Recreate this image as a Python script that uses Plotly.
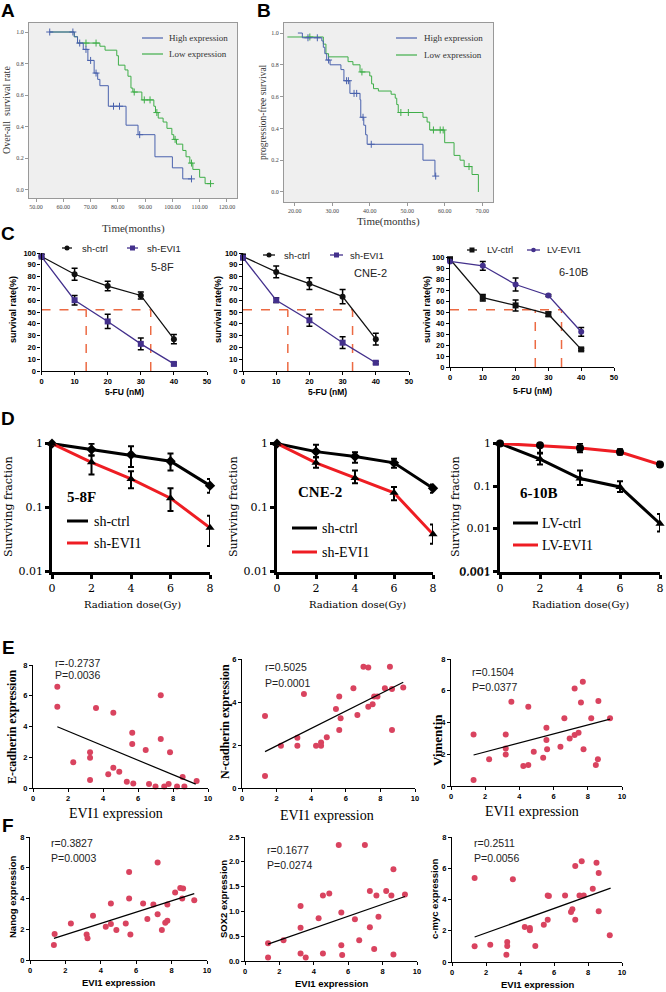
import plotly.graph_objects as go

W, H = 666, 992
SANS = "Liberation Sans, Arial, sans-serif"
SERIF = "Liberation Serif, Times New Roman, serif"
SONG = "DejaVu Serif, serif"

BLUE = "#4a62ad"
GREEN = "#3fae49"
PURPLE = "#43308c"
DASH = "#ec6a43"
RED = "#ee1d23"
DOT = "#d9435f"

# ---------------- A: overall survival ----------------
a_high_t = [55, 64, 65.2, 67.3, 69, 71.3, 72.6, 73.4, 76.5, 83, 87.4, 93.6, 100, 103.8, 107]
a_high_s = [1.0, 0.97, 0.93, 0.89, 0.82, 0.74, 0.70, 0.66, 0.53, 0.41, 0.35, 0.21, 0.14, 0.07, 0.07]
a_high_cens_t = [55, 63.5, 66, 68.3, 70, 72, 78.4, 80.6, 88, 107]
a_high_cens_s = [1.0, 1.0, 0.93, 0.89, 0.82, 0.74, 0.53, 0.53, 0.35, 0.07]
a_low_t = [55, 64, 65.2, 73.4, 75.3, 79.6, 80.2, 82.6, 83.7, 84.8, 85.5, 88.8, 93.2, 93.8, 94.8,
           96.6, 98, 99.8, 100.5, 101.5, 103.8, 105, 106.4, 107.5, 110, 112, 114]
a_low_s = [1.0, 0.97, 0.93, 0.91, 0.885, 0.85, 0.79, 0.76, 0.72, 0.645, 0.62, 0.57, 0.53, 0.49, 0.455,
           0.43, 0.39, 0.35, 0.32, 0.29, 0.25, 0.21, 0.17, 0.13, 0.08, 0.04, 0.04]
a_low_cens_t = [68.3, 72, 86, 89.7, 91.8, 94.3, 101, 107, 114]
a_low_cens_s = [0.93, 0.93, 0.62, 0.57, 0.57, 0.49, 0.32, 0.17, 0.04]
a_xticks = [50, 60, 70, 80, 90, 100, 110, 120]

# ---------------- B: progression-free survival ----------------
b_high_t = [20.8, 22, 27.2, 27.6, 28, 28.5, 29.4, 32.3, 33.1, 34.7, 37.4, 37.6, 38.4, 38.9, 39.3, 54.2, 57.4, 57.6]
b_high_s = [1.0, 0.97, 0.95, 0.91, 0.87, 0.83, 0.80, 0.77, 0.70, 0.62, 0.58, 0.47, 0.42, 0.36, 0.30, 0.20, 0.10, 0.10]
b_high_cens_t = [23.5, 26, 29, 33.8, 34.3, 35.8, 36.5, 38.2, 40.4, 57.6]
b_high_cens_s = [0.97, 0.97, 0.83, 0.70, 0.70, 0.62, 0.62, 0.47, 0.30, 0.10]
b_low_t = [18, 27.6, 28.3, 29, 34.2, 35.5, 37.4, 40, 40.5, 41, 42.3, 45.7, 46.8, 47.2, 47.6, 54.2,
           55.3, 56, 60, 62.5, 64.1, 65.2, 67.3, 69]
b_low_s = [0.975, 0.93, 0.87, 0.85, 0.82, 0.80, 0.755, 0.73, 0.68, 0.65, 0.635, 0.615, 0.59, 0.55, 0.50, 0.47,
           0.44, 0.39, 0.31, 0.23, 0.20, 0.16, 0.11, 0.0]
b_low_cens_t = [24, 37.9, 48.3, 50.3, 57, 58.8, 59.6, 66.5]
b_low_cens_s = [0.975, 0.755, 0.50, 0.50, 0.39, 0.39, 0.39, 0.16]
b_xticks = [20, 30, 40, 50, 60, 70]
km_yticks = [0, 0.2, 0.4, 0.6, 0.8, 1.0]

# ---------------- C: 5-FU survival ----------------
c_dose = [0, 10, 20, 30, 40]
c1_ctrl = [97, 82, 72, 64, 27]
c1_ctrl_err = [2, 5, 4, 3, 4]
c1_evi = [97, 60, 42, 23, 6]
c1_evi_err = [2, 4, 6, 5, 1]
c1_ic50 = [13.5, 33]
c2_ctrl = [97, 84, 74, 63, 27]
c2_ctrl_err = [2, 5, 5, 6, 5]
c2_evi = [96, 60, 43, 24, 7]
c2_evi_err = [2, 2, 5, 5, 1]
c2_ic50 = [13.5, 33]
c3_ctrl = [98, 63, 56, 48, 16]
c3_ctrl_err = [1, 3, 5, 2, 1]
c3_evi = [96, 92, 75, 65, 32]
c3_evi_err = [1, 4, 6, 1, 4]
c3_ic50 = [26, 34]
ic50_level = 52

# ---------------- D: radiation ----------------
d_dose = [0, 2, 4, 6, 8]
d1_ctrl = [1, 0.81, 0.67, 0.53, 0.22]
d1_ctrl_hi = [1.05, 1.0, 0.91, 0.70, 0.28]
d1_ctrl_lo = [0.95, 0.65, 0.43, 0.38, 0.17]
d1_evi = [1, 0.51, 0.28, 0.14, 0.048]
d1_evi_hi = [1.05, 0.65, 0.37, 0.2, 0.074]
d1_evi_lo = [0.95, 0.33, 0.2, 0.088, 0.025]
d2_ctrl = [1, 0.75, 0.63, 0.5, 0.2]
d2_ctrl_hi = [1.05, 0.96, 0.73, 0.58, 0.23]
d2_ctrl_lo = [0.95, 0.61, 0.5, 0.42, 0.17]
d2_evi = [1, 0.5, 0.29, 0.17, 0.038]
d2_evi_hi = [1.05, 0.61, 0.38, 0.21, 0.054]
d2_evi_lo = [0.95, 0.42, 0.24, 0.13, 0.027]
d3_ctrl = [1, 0.43, 0.15, 0.095, 0.013]
d3_ctrl_hi = [1.1, 0.58, 0.23, 0.13, 0.022]
d3_ctrl_lo = [0.9, 0.32, 0.105, 0.072, 0.0085]
d3_evi = [1, 0.9, 0.78, 0.63, 0.32]
d3_evi_hi = [1.1, 1.0, 1.0, 0.73, 0.37]
d3_evi_lo = [0.9, 0.6, 0.62, 0.55, 0.28]
d_yticks = [0.001, 0.01, 0.1, 1]
d_yticktext = ["0.001", "0.01", "0.1", "1"]

# ---------------- E: EMT markers vs EVI1 ----------------
e1_x = [1.39, 1.39, 3.6, 4.59, 7.3, 5.67, 5.67, 7.3, 6.44, 7.83, 3.26, 3.26, 2.3, 4.59, 4.93, 4.3,
        3.26, 8.55, 9.35, 5.36, 5.73, 6.63, 7.0, 7.5, 7.75, 8.23, 8.65]
e1_y = [6.58, 5.28, 5.2, 4.9, 6.04, 3.6, 2.86, 3.18, 2.47, 2.32, 2.32, 1.97, 1.67, 1.32, 1.06, 0.89,
        0.52, 0.71, 0.45, 0.41, 0.3, 0.26, 0.09, 0.09, 0.26, 0.09, 0.09]
e1_fit_x = [1.39, 9.3]
e1_fit_y = [3.98, 0.25]
e2_x = [1.33, 1.33, 2.25, 3.2, 3.2, 3.58, 4.28, 4.57, 4.57, 4.9, 5.43, 5.62, 5.7, 5.62, 6.44, 6.67,
        7.02, 7.3, 7.3, 7.55, 7.64, 7.83, 8.26, 8.55, 8.67, 8.67, 9.32]
e2_y = [3.35, 0.56, 1.97, 2.34, 1.97, 4.37, 1.97, 2.12, 1.97, 2.36, 3.67, 4.25, 3.24, 2.7, 4.64, 3.4,
        5.64, 5.6, 3.78, 3.89, 4.25, 4.25, 4.64, 5.64, 4.6, 2.7, 4.67]
e2_fit_x = [1.33, 9.32]
e2_fit_y = [1.69, 4.92]
e3_x = [1.32, 1.32, 2.23, 3.2, 3.2, 3.2, 3.53, 4.23, 4.52, 4.52, 4.84, 5.39, 5.58, 5.58, 5.62, 6.4,
        6.63, 6.94, 7.23, 7.23, 7.46, 7.6, 7.71, 7.75, 8.2, 8.47, 8.59, 8.62, 9.3]
e3_y = [3.25, 0.38, 1.68, 3.25, 2.37, 1.99, 5.3, 1.26, 4.99, 1.32, 2.16, 1.78, 3.67, 2.89, 2.31, 2.47,
        4.26, 3.0, 6.14, 3.21, 3.35, 5.26, 6.56, 2.31, 4.26, 1.32, 1.68, 5.35, 4.26]
e3_fit_x = [1.32, 9.3]
e3_fit_y = [1.95, 4.21]

# ---------------- F: stemness markers vs EVI1 ----------------
f1_x = [1.35, 1.39, 2.31, 3.2, 3.25, 3.56, 4.28, 4.57, 4.57, 4.88, 5.41, 5.6, 5.6, 5.67, 6.39, 6.63,
        6.97, 7.21, 7.21, 7.45, 7.64, 7.76, 7.76, 8.2, 8.49, 8.65, 8.6, 9.28]
f1_y = [0.97, 1.69, 2.38, 1.66, 1.41, 2.88, 2.16, 3.68, 2.34, 1.95, 2.38, 5.73, 4.0, 1.66, 3.68, 2.66,
        3.61, 6.34, 2.98, 1.95, 2.42, 2.55, 3.61, 4.39, 4.69, 4.65, 4.0, 3.89]
f1_fit_x = [1.35, 9.28]
f1_fit_y = [1.41, 4.32]
f2_x = [1.34, 1.34, 2.24, 3.23, 3.23, 3.23, 3.53, 4.28, 4.53, 4.53, 4.9, 5.45, 5.6, 5.6, 5.65, 6.39,
        6.64, 6.97, 7.26, 7.26, 7.51, 7.64, 7.76, 8.21, 8.51, 8.63, 8.63, 9.3]
f2_y = [0.36, 0.07, 0.42, 1.11, 0.67, 0.15, 0.07, 0.86, 1.32, 0.15, 1.36, 2.34, 0.98, 0.32, 0.12, 0.84,
        0.42, 2.34, 1.41, 0.68, 0.24, 1.32, 0.89, 1.41, 1.32, 1.85, 0.13, 1.34]
f2_fit_x = [1.34, 9.3]
f2_fit_y = [0.34, 1.30]
f3_x = [1.33, 1.33, 2.25, 3.25, 3.25, 3.2, 3.58, 4.28, 4.58, 4.58, 4.9, 5.4, 5.63, 5.63, 5.7, 6.65,
        7.08, 7.0, 7.25, 7.25, 7.5, 7.63, 7.75, 8.28, 8.5, 8.63, 8.63, 9.28]
f3_y = [5.37, 1.0, 1.11, 1.28, 1.02, 0.47, 5.29, 2.24, 2.17, 2.03, 1.02, 2.39, 4.26, 2.71, 4.22, 4.26,
        3.37, 3.2, 6.14, 2.71, 4.26, 6.44, 4.26, 4.69, 6.35, 5.69, 3.24, 1.71]
f3_fit_x = [1.33, 9.33]
f3_fit_y = [1.6, 4.73]


def px(x):
    return x / W


def py(y):
    return 1 - y / H


def refs(n):
    return ("x" if n == 1 else f"x{n}", "y" if n == 1 else f"y{n}")


# plot boxes in pixels: x0, x1, y bottom, y top
BOX = {
    1: (29, 237, 198, 23), 2: (284, 493, 202, 23),
    3: (41.5, 207, 371, 253), 4: (243, 409, 371, 253), 5: (450, 614, 367, 257),
    6: (52, 210, 572, 443), 7: (277, 433, 572, 443), 8: (500, 660, 572, 443),
    9: (33, 208, 788, 665), 10: (242, 415, 788, 659), 11: (451, 622, 786, 659),
    12: (30, 207, 960, 837), 13: (245, 417, 961, 837), 14: (452, 622, 962, 837),
}


def axis(n, which, rng, tickvals, ticktext, font, color="black", lw=1.2, tlen=3, mirror=False, kind="linear"):
    x0, x1, yb, yt = BOX[n]
    xr, yr = refs(n)
    if which == "x":
        dom, anchor = [px(x0), px(x1)], yr
    else:
        dom, anchor = [py(yb), py(yt)], xr
    return dict(domain=dom, anchor=anchor, range=rng, type=kind, tickmode="array", tickvals=tickvals,
                ticktext=ticktext, showline=True, linecolor=color, linewidth=lw, mirror=mirror,
                ticks="outside", ticklen=tlen, tickwidth=lw, tickcolor=color, tickfont=font,
                ticklabeloverflow="allow", showgrid=False, zeroline=False, automargin=False,
                fixedrange=True)


fig = go.Figure()
layout = {}
annotations = []
shapes = []


def txt(x, y, s, size, family=SANS, bold=False, anchor="center", angle=0, color="black"):
    annotations.append(dict(x=px(x), y=py(y), xref="paper", yref="paper", text=s, showarrow=False,
                            xanchor=anchor, yanchor="middle", textangle=angle,
                            font=dict(family=family, size=size, color=color,
                                      weight="bold" if bold else "normal")))


def seg(x0, x1, y, color, width):
    shapes.append(dict(type="line", xref="paper", yref="paper", x0=px(x0), x1=px(x1), y0=py(y), y1=py(y),
                       line=dict(color=color, width=width)))


def dot(x, y, r, color, kind="circle"):
    shapes.append(dict(type=kind, xref="paper", yref="paper", x0=px(x - r), x1=px(x + r),
                       y0=py(y + r), y1=py(y - r), fillcolor=color, line=dict(color=color, width=0)))


# ---------- A & B ----------
KM_TICK = dict(family=SERIF, size=6, color="#444")
km_sets = [
    (1, a_high_t, a_high_s, a_high_cens_t, a_high_cens_s, a_low_t, a_low_s, a_low_cens_t, a_low_cens_s,
     [47.4, 123.7], a_xticks, [-0.051, 1.057]),
    (2, b_high_t, b_high_s, b_high_cens_t, b_high_cens_s, b_low_t, b_low_s, b_low_cens_t, b_low_cens_s,
     [17.1, 72.9], b_xticks, [-0.063, 1.063]),
]
for n, ht, hs, hct, hcs, lt, ls, lct, lcs, xr_, xt, yr_ in km_sets:
    xr, yr = refs(n)
    for t, s, ct, cs, col in [(lt, ls, lct, lcs, GREEN), (ht, hs, hct, hcs, BLUE)]:
        fig.add_trace(go.Scatter(x=t, y=s, mode="lines", line=dict(color=col, width=1, shape="hv"),
                                 xaxis=xr, yaxis=yr, hoverinfo="skip"))
        fig.add_trace(go.Scatter(x=ct, y=cs, mode="markers", xaxis=xr, yaxis=yr, hoverinfo="skip",
                                 marker=dict(symbol="cross-thin", size=5, line=dict(color=col, width=1))))
    layout["xaxis" if n == 1 else f"xaxis{n}"] = axis(n, "x", xr_, xt, [f"{v:.2f}" for v in xt], KM_TICK,
                                                     color="#999", lw=1, mirror=True)
    layout["yaxis" if n == 1 else f"yaxis{n}"] = axis(n, "y", yr_, km_yticks, [f"{v:.1f}" for v in km_yticks],
                                                     KM_TICK, color="#999", lw=1, mirror=True)
    shapes.append(dict(type="rect", xref=f"{xr} domain", yref=f"{yr} domain", x0=0, x1=1, y0=0, y1=1,
                       fillcolor="#efefef", line=dict(width=0), layer="below"))

seg(142, 163, 38, BLUE, 1.2)
seg(142, 163, 54, GREEN, 1.2)
txt(167, 38, "High expression", 9, SERIF, anchor="left", color="#333")
txt(167, 54, "Low expression", 9, SERIF, anchor="left", color="#333")
seg(396, 417, 38, BLUE, 1.2)
seg(396, 417, 55, GREEN, 1.2)
txt(422, 38, "High expression", 9, SERIF, anchor="left", color="#333")
txt(422, 55, "Low expression", 9, SERIF, anchor="left", color="#333")
txt(7, 110, "Over-all  survival rate", 10, SERIF, angle=-90, color="#333")
txt(263, 112, "progression-free survival", 9.5, SERIF, angle=-90, color="#333")
txt(133, 228, "Time(months)", 11, SERIF, color="#333")
txt(388, 222, "Time(months)", 11, SERIF, color="#333")

# ---------- C ----------
GP_TICK = dict(family=SANS, size=7.5, color="black", weight="bold")
c_sets = [
    (3, c1_ctrl, c1_ctrl_err, c1_evi, c1_evi_err, c1_ic50, "circle", "square"),
    (4, c2_ctrl, c2_ctrl_err, c2_evi, c2_evi_err, c2_ic50, "circle", "square"),
    (5, c3_ctrl, c3_ctrl_err, c3_evi, c3_evi_err, c3_ic50, "square", "circle"),
]
c_yticks = list(range(0, 101, 10))
c_xticks = [0, 10, 20, 30, 40, 50]
for n, ctrl, cerr, evi, eerr, ic, msym_c, msym_e in c_sets:
    xr, yr = refs(n)
    fig.add_trace(go.Scatter(x=[0, ic[1]], y=[ic50_level, ic50_level], mode="lines", xaxis=xr, yaxis=yr,
                             line=dict(color=DASH, width=1.5, dash="dash"), hoverinfo="skip"))
    for xv in ic:
        fig.add_trace(go.Scatter(x=[xv, xv], y=[0, ic50_level], mode="lines", xaxis=xr, yaxis=yr,
                                 line=dict(color=DASH, width=1.5, dash="dash"), hoverinfo="skip"))
    for vals, err, col, sym in [(ctrl, cerr, "#111", msym_c), (evi, eerr, PURPLE, msym_e)]:
        fig.add_trace(go.Scatter(x=c_dose, y=vals, mode="lines+markers", xaxis=xr, yaxis=yr, cliponaxis=False,
                                 line=dict(color=col, width=1.3), marker=dict(symbol=sym, size=6, color=col),
                                 error_y=dict(type="data", array=err, color="black", thickness=1.5, width=3),
                                 hoverinfo="skip"))
    layout[f"xaxis{n}"] = axis(n, "x", [0, 50], c_xticks, [str(v) for v in c_xticks], GP_TICK)
    layout[f"yaxis{n}"] = axis(n, "y", [0, 100], c_yticks, [str(v) for v in c_yticks], GP_TICK)

# C legends and labels
seg(62, 72, 248, "#111", 1.3); dot(67, 248, 2.5, "#111")
txt(80, 248, "sh-ctrl", 9.5, anchor="left", color="#222")
seg(127, 138, 248, PURPLE, 1.3); dot(132.5, 248, 2.5, PURPLE, "rect")
txt(145, 248, "sh-EVI1", 9.5, anchor="left", color="#222")
seg(263, 275, 255, "#111", 1.3); dot(269, 255, 2.5, "#111")
txt(282, 255, "sh-ctrl", 9.5, anchor="left", color="#222")
seg(330, 343, 255, PURPLE, 1.3); dot(336.5, 255, 2.5, PURPLE, "rect")
txt(348, 255, "sh-EVI1", 9.5, anchor="left", color="#222")
seg(467, 477, 250, "#111", 1.3); dot(472, 250, 2.5, "#111", "rect")
txt(485, 250, "LV-ctrl", 9.5, anchor="left", color="#222")
seg(527, 540, 250, PURPLE, 1.3); dot(533.5, 250, 2.3, PURPLE)
txt(545, 250, "LV-EVI1", 9.5, anchor="left", color="#222")
txt(162, 267, "5-8F", 11, color="#222")
txt(370, 273, "CNE-2", 11, color="#222")
txt(573, 272, "6-10B", 11, color="#222")
for xx in (13, 218, 427):
    txt(xx, 310, "survival rate(%)", 9, bold=True, angle=-90)
txt(124, 392, "5-FU (nM)", 8.5, bold=True)
txt(327, 392, "5-FU (nM)", 8.5, bold=True)
txt(532, 391, "5-FU (nM)", 8.5, bold=True)

# ---------- D ----------
D_TICK = dict(family=SONG, size=11, color="black")
d_sets = [
    (6, d1_ctrl, d1_ctrl_hi, d1_ctrl_lo, d1_evi, d1_evi_hi, d1_evi_lo, "diamond", "triangle-up", [-2.01, 0.01]),
    (7, d2_ctrl, d2_ctrl_hi, d2_ctrl_lo, d2_evi, d2_evi_hi, d2_evi_lo, "diamond", "triangle-up", [-2.01, 0.01]),
    (8, d3_ctrl, d3_ctrl_hi, d3_ctrl_lo, d3_evi, d3_evi_hi, d3_evi_lo, "triangle-up", "circle", [-3.02, 0.01]),
]
for n, ctrl, chi, clo, evi, ehi, elo, sc, se, yrange in d_sets:
    xr, yr = refs(n)
    for vals, hi, lo, col, sym in [(ctrl, chi, clo, "black", sc), (evi, ehi, elo, RED, se)]:
        fig.add_trace(go.Scatter(
            x=d_dose, y=vals, mode="lines+markers", xaxis=xr, yaxis=yr, cliponaxis=False,
            line=dict(color=col, width=3), marker=dict(symbol=sym, size=8, color="black"),
            error_y=dict(type="data", symmetric=False, array=[h - v for h, v in zip(hi, vals)],
                         arrayminus=[v - l for v, l in zip(vals, lo)], color="black", thickness=2, width=3),
            hoverinfo="skip"))
    layout[f"xaxis{n}"] = axis(n, "x", [0, 8], [0, 2, 4, 6, 8], ["0", "2", "4", "6", "8"], D_TICK,
                               lw=2.5, tlen=4)
    layout[f"yaxis{n}"] = axis(n, "y", yrange, d_yticks, d_yticktext, D_TICK, lw=2.5, tlen=4, kind="log")

# the lowest decade label of the 6-10B axis is dropped by plotly at the corner; write it in place
txt(493, 572, "0.001", 11, SONG, anchor="right")

txt(81, 497, "5-8F", 15, SERIF, bold=True)
seg(67, 88, 521, "black", 3); seg(67, 88, 543, RED, 3)
txt(92, 521, "sh-ctrl", 14, SERIF, anchor="left")
txt(92, 543, "sh-EVI1", 14, SERIF, anchor="left")
txt(320, 492, "CNE-2", 15, SERIF, bold=True)
seg(292, 317, 528, "black", 3); seg(292, 317, 552, RED, 3)
txt(320, 528, "sh-ctrl", 14, SERIF, anchor="left")
txt(320, 552, "sh-EVI1", 14, SERIF, anchor="left")
txt(539, 493, "6-10B", 15, SERIF, bold=True)
seg(513, 538, 523, "black", 3); seg(513, 538, 545, RED, 3)
txt(540, 523, "LV-ctrl", 14, SERIF, anchor="left")
txt(540, 545, "LV-EVI1", 14, SERIF, anchor="left")
for xx in (8, 233, 455):
    txt(xx, 507, "Surviving fraction", 11, SONG, angle=-90)
for xx in (132, 357, 580):
    txt(xx, 604, "Radiation dose(Gy)", 10, SONG)

# ---------- E & F ----------
E_TICK = dict(family=SANS, size=7.5, color="black", weight="bold")
sc_sets = [
    (9, e1_x, e1_y, e1_fit_x, e1_fit_y, [0, 8], [0, 2, 4, 6, 8]),
    (10, e2_x, e2_y, e2_fit_x, e2_fit_y, [0, 6], [0, 2, 4, 6]),
    (11, e3_x, e3_y, e3_fit_x, e3_fit_y, [0, 8], [0, 2, 4, 6, 8]),
    (12, f1_x, f1_y, f1_fit_x, f1_fit_y, [0, 8], [0, 2, 4, 6, 8]),
    (13, f2_x, f2_y, f2_fit_x, f2_fit_y, [0, 2.5], [0, 0.5, 1.0, 1.5, 2.0, 2.5]),
    (14, f3_x, f3_y, f3_fit_x, f3_fit_y, [0, 8], [0, 2, 4, 6, 8]),
]
e_xticks = [0, 2, 4, 6, 8, 10]
for n, xs, ys, fx, fy, yrange, yt in sc_sets:
    xr, yr = refs(n)
    fig.add_trace(go.Scatter(x=xs, y=ys, mode="markers", xaxis=xr, yaxis=yr, cliponaxis=False,
                             marker=dict(size=6, color=DOT), hoverinfo="skip"))
    fig.add_trace(go.Scatter(x=fx, y=fy, mode="lines", xaxis=xr, yaxis=yr,
                             line=dict(color="black", width=1.2), hoverinfo="skip"))
    ytt = [f"{v:.1f}" for v in yt] if n == 13 else [str(v) for v in yt]
    layout[f"xaxis{n}"] = axis(n, "x", [0, 10], e_xticks, [str(v) for v in e_xticks], E_TICK)
    layout[f"yaxis{n}"] = axis(n, "y", yrange, yt, ytt, E_TICK)

txt(53, 663, "r=-0.2737", 10.5, anchor="left", color="#222")
txt(53, 675, "P=0.0036", 10.5, anchor="left", color="#222")
txt(263, 667, "r=0.5025", 10.5, anchor="left", color="#222")
txt(263, 683, "P=0.0001", 10.5, anchor="left", color="#222")
txt(470, 672, "r=0.1504", 10.5, anchor="left", color="#222")
txt(470, 687, "P=0.0377", 10.5, anchor="left", color="#222")
txt(116, 813, "EVI1 expression", 14, SERIF)
txt(327, 815, "EVI1 expression", 14, SERIF)
txt(532, 811, "EVI1 expression", 14, SERIF)
txt(12, 727, "E-cadherin expression", 12, SERIF, bold=True, angle=-90)
txt(225, 722, "N-cadherin expression", 12, SERIF, bold=True, angle=-90)
txt(437, 740, "Vimentin", 13, SERIF, bold=True, angle=-90)

txt(49, 843, "r=0.3827", 10.5, anchor="left", color="#222")
txt(49, 858, "P=0.0003", 10.5, anchor="left", color="#222")
txt(265, 850, "r=0.1677", 10.5, anchor="left", color="#222")
txt(265, 865, "P=0.0274", 10.5, anchor="left", color="#222")
txt(472, 843, "r=0.2511", 10.5, anchor="left", color="#222")
txt(472, 858, "P=0.0056", 10.5, anchor="left", color="#222")
txt(119, 982, "EVI1 expression", 9.5, bold=True)
txt(332, 983, "EVI1 expression", 9.5, bold=True)
txt(538, 984, "EVI1 expression", 9.5, bold=True)
txt(12, 897, "Nanog expression", 9.5, bold=True, angle=-90)
txt(223, 899, "SOX2 expression", 9.5, bold=True, angle=-90)
txt(434, 899, "c-myc expression", 9.5, bold=True, angle=-90)

# panel letters
for letter, x, y in [("A", 8, 10), ("B", 264, 10), ("C", 8, 234), ("D", 8, 418), ("E", 8, 647), ("F", 8, 825)]:
    txt(x, y, letter, 19, bold=True)

fig.update_layout(
    width=W, height=H, margin=dict(l=0, r=0, t=0, b=0), template="none",
    paper_bgcolor="white", plot_bgcolor="rgba(0,0,0,0)", showlegend=False,
    annotations=annotations, shapes=shapes, **layout,
)
# the page body has a default 8px margin; drop it so the figure fills the window
fig.write_html("out.html", config={"displayModeBar": False},
               post_script="document.body.style.margin='0';document.body.style.overflow='hidden';")
